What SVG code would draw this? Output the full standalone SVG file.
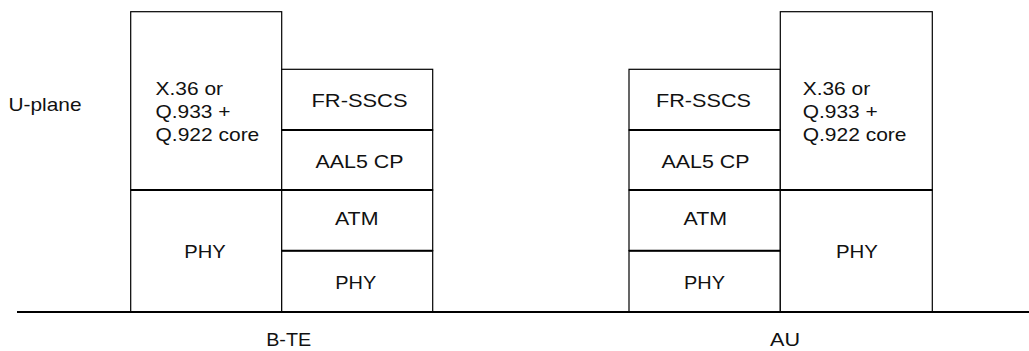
<svg xmlns="http://www.w3.org/2000/svg" width="1029" height="351" viewBox="0 0 1029 351">
<style>
.cell{fill:#fff;stroke:#000;stroke-width:1.2}
.div{stroke:#000;stroke-width:2}
text{font-family:"Liberation Sans",Arial,sans-serif;font-size:18.5px;fill:#111}
.m{text-anchor:middle}
</style>
<rect width="1029" height="351" fill="#fff"/>
<text id="uplane" x="8.5" y="110.5" textLength="73" lengthAdjust="spacingAndGlyphs">U-plane</text>
<g id="bte">
<g id="bte-q922"><rect class="cell" x="130.7" y="11.7" width="151" height="178.3"/>
<text x="155.5" y="94.7" textLength="67.5" lengthAdjust="spacingAndGlyphs">X.36 or</text>
<text x="155.5" y="118" textLength="75" lengthAdjust="spacingAndGlyphs">Q.933 +</text>
<text x="155.5" y="141.3" textLength="103.8" lengthAdjust="spacingAndGlyphs">Q.922 core</text></g>
<g id="bte-phy-l"><rect class="cell" x="130.7" y="190" width="151" height="121.7"/>
<text class="m" x="205" y="257.7" textLength="41.5" lengthAdjust="spacingAndGlyphs">PHY</text></g>
<g id="bte-frsscs"><rect class="cell" x="281.7" y="69.3" width="151" height="60.7"/>
<text class="m" x="359.5" y="106.7" textLength="96" lengthAdjust="spacingAndGlyphs">FR-SSCS</text></g>
<g id="bte-aal5"><rect class="cell" x="281.7" y="130" width="151" height="60"/>
<text class="m" x="359.5" y="168.3" textLength="88" lengthAdjust="spacingAndGlyphs">AAL5 CP</text></g>
<g id="bte-atm"><rect class="cell" x="281.7" y="190" width="151" height="60.7"/>
<text class="m" x="356.7" y="225" textLength="43.5" lengthAdjust="spacingAndGlyphs">ATM</text></g>
<g id="bte-phy-r"><rect class="cell" x="281.7" y="250.7" width="151" height="61"/>
<text class="m" x="355.8" y="289" textLength="41" lengthAdjust="spacingAndGlyphs">PHY</text></g>
<text id="bte-label" class="m" x="288.7" y="345.7" textLength="45" lengthAdjust="spacingAndGlyphs">B-TE</text>
</g>
<g id="au">
<g id="au-frsscs"><rect class="cell" x="629" y="69.3" width="151.3" height="60.7"/>
<text class="m" x="703.5" y="106.7" textLength="95" lengthAdjust="spacingAndGlyphs">FR-SSCS</text></g>
<g id="au-aal5"><rect class="cell" x="629" y="130" width="151.3" height="60"/>
<text class="m" x="705.5" y="168.3" textLength="88" lengthAdjust="spacingAndGlyphs">AAL5 CP</text></g>
<g id="au-atm"><rect class="cell" x="629" y="190" width="151.3" height="60.7"/>
<text class="m" x="705.3" y="225" textLength="43.5" lengthAdjust="spacingAndGlyphs">ATM</text></g>
<g id="au-phy-l"><rect class="cell" x="629" y="250.7" width="151.3" height="61"/>
<text class="m" x="704.5" y="289" textLength="41" lengthAdjust="spacingAndGlyphs">PHY</text></g>
<g id="au-q922"><rect class="cell" x="780.3" y="11.7" width="152" height="178.3"/>
<text x="802.7" y="94.7" textLength="67.5" lengthAdjust="spacingAndGlyphs">X.36 or</text>
<text x="802.7" y="118" textLength="75" lengthAdjust="spacingAndGlyphs">Q.933 +</text>
<text x="802.7" y="141.3" textLength="103.8" lengthAdjust="spacingAndGlyphs">Q.922 core</text></g>
<g id="au-phy-r"><rect class="cell" x="780.3" y="190" width="152" height="121.7"/>
<text class="m" x="857" y="257.7" textLength="42" lengthAdjust="spacingAndGlyphs">PHY</text></g>
<text id="au-label" class="m" x="785" y="345.7" textLength="30" lengthAdjust="spacingAndGlyphs">AU</text>
</g>
<g id="connectors">
<line class="div" x1="130.7" y1="190" x2="432.7" y2="190"/>
<line class="div" x1="281.7" y1="130" x2="432.7" y2="130"/>
<line class="div" x1="281.7" y1="250.7" x2="432.7" y2="250.7"/>
<line class="div" x1="629" y1="190" x2="932.3" y2="190"/>
<line class="div" x1="629" y1="130" x2="780.3" y2="130"/>
<line class="div" x1="629" y1="250.7" x2="780.3" y2="250.7"/>
<line class="div" x1="17" y1="312" x2="1029" y2="312"/>
</g>
</svg>
